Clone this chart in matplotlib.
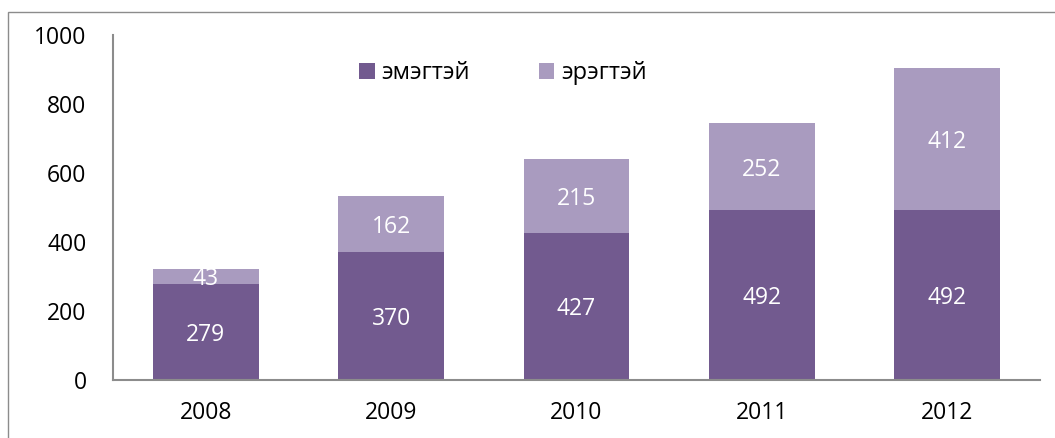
import matplotlib
matplotlib.use("Agg")
import matplotlib.pyplot as plt
from matplotlib.patches import Rectangle
import numpy as np

years = ["2008", "2009", "2010", "2011", "2012"]
female = [279, 370, 427, 492, 492]
male = [43, 162, 215, 252, 412]
series_names = ["эмэгтэй", "эрэгтэй"]
yticks = [0, 200, 400, 600, 800, 1000]

c_dark = "#725A8F"
c_light = "#A99BBF"

plt.rcParams['font.family'] = ['Open Sans', 'DejaVu Sans']

W, H = 1055, 438
fig = plt.figure(figsize=(W / 100, H / 100), dpi=100)

# outer frame (left & top visible)
fig.patches.append(Rectangle((8 / W, -0.1), 1.2, (H - 12) / H + 0.1,
                             transform=fig.transFigure, fill=False,
                             edgecolor="#8C8C8C", linewidth=1.0))

ax = fig.add_axes([113 / W, (H - 380) / H, (1040 - 113) / W, (380 - 35) / H])
x = np.arange(len(years))
w = 0.57
ax.bar(x, female, w, color=c_dark, label=series_names[0])
ax.bar(x, male, w, bottom=female, color=c_light, label=series_names[1])

for xi, f, m in zip(x, female, male):
    ax.text(xi, f / 2, str(f), ha="center", va="center_baseline", color="white", fontsize=16.5)
    ax.text(xi, f + m / 2, str(m), ha="center", va="center_baseline", color="white", fontsize=16.5)

ax.set_xlim(-0.5, 4.5)
ax.set_ylim(0, 1000)
ax.set_xticks(x)
ax.set_xticklabels(years, fontsize=16.5)
ax.set_yticks(yticks)
ax.set_yticklabels([str(v) for v in yticks], fontsize=16.5)
for s in ["top", "right"]:
    ax.spines[s].set_visible(False)
ax.spines["left"].set_color("#8C8C8C")
ax.spines["bottom"].set_color("#8C8C8C")
ax.spines["left"].set_linewidth(1.5)
ax.spines["bottom"].set_linewidth(1.5)
ax.tick_params(axis="both", length=0)
ax.tick_params(axis="x", pad=15)
ax.tick_params(axis="y", pad=19)

ax.legend(loc="center", bbox_to_anchor=(503 / W, (H - 73) / H),
          bbox_transform=fig.transFigure, ncol=2, frameon=False,
          fontsize=17, handlelength=0.65, handleheight=0.65,
          columnspacing=2.9, handletextpad=0.3, borderpad=0)

fig.savefig("out.png", dpi=100)
